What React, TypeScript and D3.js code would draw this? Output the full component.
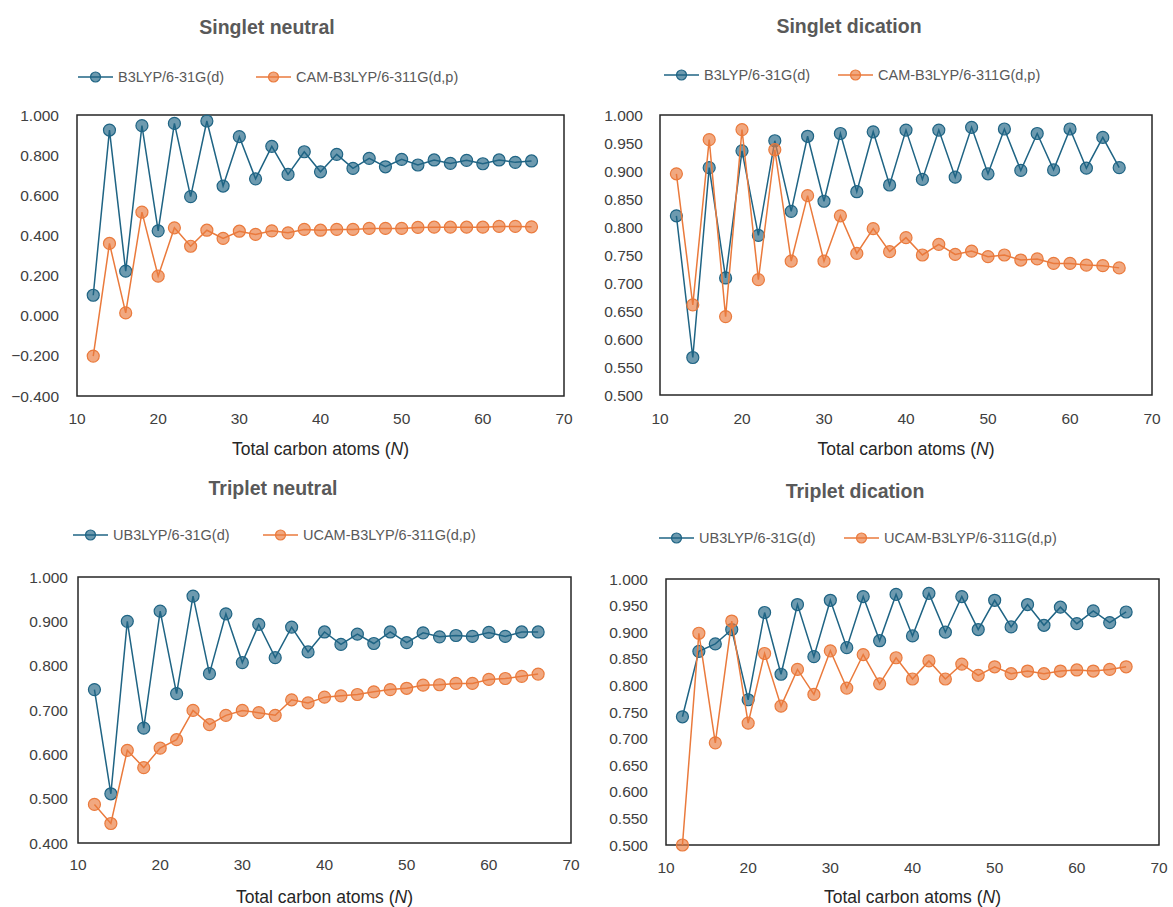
import React from 'react';
import * as d3 from 'd3';

// total carbon atoms N
const carbonAtoms = [12, 14, 16, 18, 20, 22, 24, 26, 28, 30, 32, 34, 36, 38, 40, 42, 44, 46, 48, 50, 52, 54, 56, 58, 60, 62, 64, 66];
const xTicks = [10, 20, 30, 40, 50, 60, 70];

const singletNeutralB3lyp = [0.102, 0.925, 0.222, 0.947, 0.423, 0.958, 0.593, 0.970, 0.646, 0.892, 0.682, 0.844, 0.704, 0.817, 0.717, 0.804, 0.734, 0.784, 0.742, 0.779, 0.751, 0.776, 0.759, 0.774, 0.757, 0.776, 0.764, 0.771];
const singletNeutralCam = [-0.201, 0.360, 0.014, 0.516, 0.197, 0.438, 0.346, 0.426, 0.385, 0.421, 0.405, 0.423, 0.413, 0.430, 0.426, 0.430, 0.430, 0.435, 0.435, 0.435, 0.440, 0.441, 0.441, 0.441, 0.441, 0.445, 0.445, 0.443];

const singletDicationB3lyp = [0.820, 0.567, 0.906, 0.709, 0.936, 0.785, 0.954, 0.828, 0.962, 0.846, 0.967, 0.863, 0.970, 0.875, 0.973, 0.885, 0.973, 0.889, 0.978, 0.895, 0.975, 0.901, 0.967, 0.902, 0.975, 0.905, 0.960, 0.906];
const singletDicationCam = [0.895, 0.661, 0.956, 0.640, 0.974, 0.706, 0.938, 0.739, 0.856, 0.739, 0.820, 0.753, 0.797, 0.756, 0.781, 0.750, 0.769, 0.751, 0.757, 0.747, 0.750, 0.741, 0.743, 0.735, 0.735, 0.732, 0.731, 0.727];

const tripletNeutralB3lyp = [0.746, 0.511, 0.900, 0.659, 0.923, 0.737, 0.957, 0.782, 0.917, 0.807, 0.893, 0.818, 0.887, 0.831, 0.876, 0.848, 0.871, 0.850, 0.876, 0.852, 0.874, 0.865, 0.868, 0.866, 0.875, 0.866, 0.876, 0.876];
const tripletNeutralCam = [0.487, 0.444, 0.609, 0.570, 0.614, 0.633, 0.699, 0.667, 0.688, 0.699, 0.694, 0.688, 0.723, 0.716, 0.729, 0.732, 0.735, 0.741, 0.746, 0.749, 0.756, 0.757, 0.760, 0.760, 0.769, 0.771, 0.776, 0.781];

const tripletDicationB3lyp = [0.741, 0.864, 0.878, 0.905, 0.773, 0.937, 0.821, 0.952, 0.854, 0.960, 0.871, 0.967, 0.884, 0.971, 0.893, 0.973, 0.900, 0.967, 0.905, 0.960, 0.910, 0.952, 0.913, 0.947, 0.916, 0.940, 0.918, 0.938];
const tripletDicationCam = [0.500, 0.898, 0.692, 0.921, 0.729, 0.860, 0.761, 0.830, 0.783, 0.865, 0.795, 0.858, 0.803, 0.852, 0.812, 0.846, 0.812, 0.840, 0.819, 0.835, 0.822, 0.827, 0.822, 0.827, 0.829, 0.827, 0.830, 0.835];

const yTicksWide = [-0.4, -0.2, 0, 0.2, 0.4, 0.6, 0.8, 1.0];
const yTicksHalf = [0.5, 0.55, 0.6, 0.65, 0.7, 0.75, 0.8, 0.85, 0.9, 0.95, 1.0];
const yTicksTenth = [0.4, 0.5, 0.6, 0.7, 0.8, 0.9, 1.0];

const singletNames = ['B3LYP/6-31G(d)', 'CAM-B3LYP/6-311G(d,p)'];
const tripletNames = ['UB3LYP/6-31G(d)', 'UCAM-B3LYP/6-311G(d,p)'];

const colors = {
  blue: '#1f6484',
  orange: '#ea7a3c',
  text: '#595959',
  axis: '#262626',
};

const font = '"Liberation Sans", Arial, sans-serif';

function Panel({ title, names, series, box, yTicks, titleX, titleY, legendY, legendX, labelGap, axisTitleY, xLabelY }) {
  const x = d3.scaleLinear().domain([10, 70]).range([box.x0, box.x1]);
  const y = d3.scaleLinear().domain([yTicks[0], yTicks[yTicks.length - 1]]).range([box.y1, box.y0]);
  const line = d3.line<number>()
    .x((d, i) => x(carbonAtoms[i]))
    .y(d => y(d));
  const fmt = d3.format('.3f');
  const seriesColors = [colors.blue, colors.orange];

  return (
    <g>
      <text x={titleX} y={titleY} textAnchor="middle" dominantBaseline="central"
        fontSize={19.5} fontWeight="bold" fill={colors.text}>{title}</text>
      {/* legend */}
      {names.map((name, i) => (
        <g key={name} transform={`translate(${legendX[i]}, ${legendY})`}>
          <line x1={0} x2={35} y1={0} y2={0} stroke={seriesColors[i]} strokeWidth={1.5} />
          <circle cx={17.5} cy={0} r={5} fill={seriesColors[i]} fillOpacity={0.65} stroke={seriesColors[i]} strokeWidth={1.2} />
          <text x={40} y={0} dominantBaseline="central" fontSize={14.5} fill={colors.text}>{name}</text>
        </g>
      ))}
      {/* plot box */}
      <rect x={box.x0} y={box.y0} width={box.x1 - box.x0} height={box.y1 - box.y0}
        fill="none" stroke={colors.axis} strokeWidth={1.5} />
      {yTicks.map(t => (
        <text key={t} x={box.x0 - labelGap} y={y(t)} textAnchor="end" dominantBaseline="central"
          fontSize={15.5} fill="#404040">{fmt(t)}</text>
      ))}
      {xTicks.map(t => (
        <text key={t} x={x(t)} y={xLabelY} textAnchor="middle" fontSize={15.5} fill="#404040">{t}</text>
      ))}
      <text x={(box.x0 + box.x1) / 2} y={axisTitleY} textAnchor="middle" fontSize={17.5} fill={colors.axis}>
        Total carbon atoms (<tspan fontStyle="italic">N</tspan>)
      </text>
      {/* series */}
      {series.map((vals, si) => (
        <g key={si}>
          <path d={line(vals) || ''} fill="none" stroke={seriesColors[si]} strokeWidth={1.5} />
          {vals.map((v, i) => (
            <circle key={i} cx={x(carbonAtoms[i])} cy={y(v)} r={6}
              fill={seriesColors[si]} fillOpacity={0.65} stroke={seriesColors[si]} strokeWidth={1.2} />
          ))}
        </g>
      ))}
    </g>
  );
}

export default function App() {
  return (
    <svg width={1173} height={907} style={{ position: 'absolute', left: 0, top: 0, background: '#fff' }}
      fontFamily={font}>
      <rect width={1173} height={907} fill="#fff" />
      <Panel title="Singlet neutral" names={singletNames}
        series={[singletNeutralB3lyp, singletNeutralCam]}
        box={{ x0: 77, x1: 564, y0: 115, y1: 396 }} yTicks={yTicksWide}
        titleX={267} titleY={27} legendY={77} legendX={[78, 256]} labelGap={18}
        axisTitleY={455} xLabelY={424} />
      <Panel title="Singlet dication" names={singletNames}
        series={[singletDicationB3lyp, singletDicationCam]}
        box={{ x0: 660, x1: 1152, y0: 115, y1: 395 }} yTicks={yTicksHalf}
        titleX={849} titleY={26} legendY={75} legendX={[664, 838]} labelGap={17}
        axisTitleY={455} xLabelY={424} />
      <Panel title="Triplet neutral" names={tripletNames}
        series={[tripletNeutralB3lyp, tripletNeutralCam]}
        box={{ x0: 78, x1: 571, y0: 577, y1: 843 }} yTicks={yTicksTenth}
        titleX={273} titleY={488} legendY={535} legendX={[73, 263]} labelGap={10}
        axisTitleY={903} xLabelY={870} />
      <Panel title="Triplet dication" names={tripletNames}
        series={[tripletDicationB3lyp, tripletDicationCam]}
        box={{ x0: 666, x1: 1159, y0: 579, y1: 845 }} yTicks={yTicksHalf}
        titleX={855} titleY={491} legendY={538} legendX={[659, 844]} labelGap={18}
        axisTitleY={903} xLabelY={873} />
    </svg>
  );
}
